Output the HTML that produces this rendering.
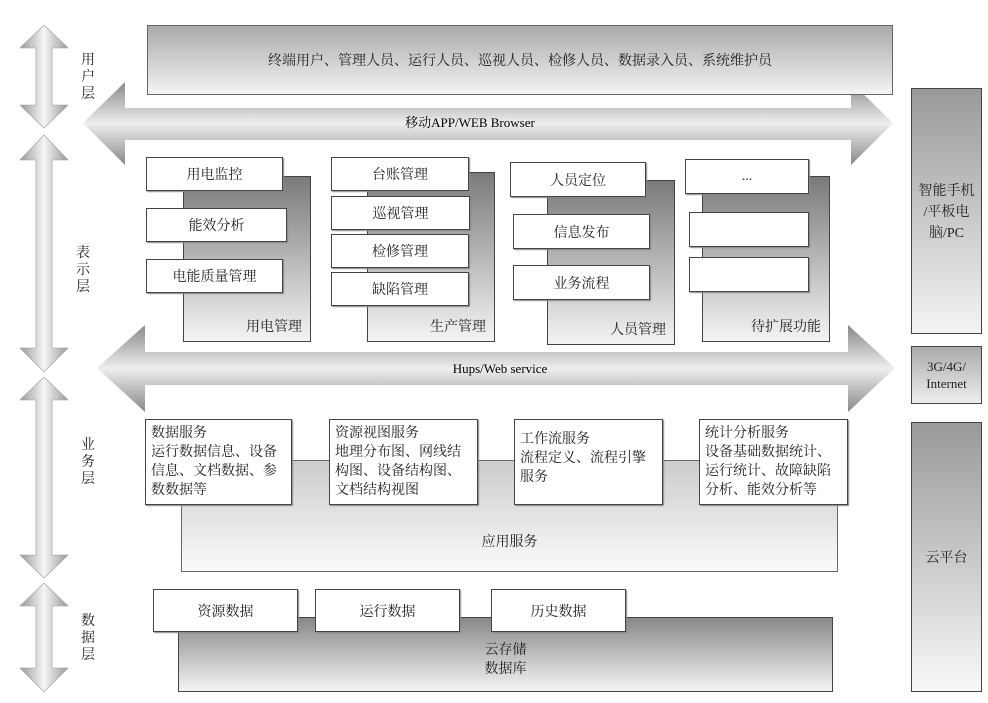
<!DOCTYPE html>
<html><head><meta charset="utf-8"><style>
body{margin:0;width:988px;height:703px;background:#fff;position:relative;overflow:hidden;font-family:"Liberation Serif","Noto Serif CJK SC","Noto Sans CJK SC",serif;color:#222}
.a{position:absolute;box-sizing:border-box}
.w{background:#fff;border:1.5px solid #444;box-shadow:1px 1px 1px #888;font-size:14px;display:flex;align-items:center;justify-content:center}
.bk{border:1.5px solid #444;background:linear-gradient(#7a7a7a,#f4f4f4);font-size:14px}
.lt{border:1.5px solid #666;background:linear-gradient(#ccc,#fafafa)}
.t{font-size:14px;line-height:19px;padding:4px 5px;display:block;text-align:left;align-items:flex-start;justify-content:flex-start}
.v{position:absolute;font-size:14px;line-height:17px;width:16px;text-align:center}
.lab{position:absolute;right:8px;bottom:5px}
</style></head><body>
<svg class="a" style="left:0;top:0" width="988" height="703">
<defs>
<linearGradient id="hg" x1="0" y1="0" x2="0" y2="1"><stop offset="0" stop-color="#888"/><stop offset=".5" stop-color="#eee"/><stop offset="1" stop-color="#888"/></linearGradient>
<linearGradient id="vg" x1="0" y1="0" x2="1" y2="0"><stop offset="0" stop-color="#999"/><stop offset=".5" stop-color="#f6f6f6"/><stop offset="1" stop-color="#999"/></linearGradient>
</defs>
<polygon points="83,123 125,82 125,108 851,108 851,82 893,123 851,165 851,140 125,140 125,165" fill="url(#hg)"/>
<polygon points="97,368 145,325 145,352 848,352 848,325 895,368 848,412 848,385 145,385 145,412" fill="url(#hg)"/>
<g fill="url(#vg)" stroke="#999" stroke-width=".6">
<polygon points="44,25 68,48 52,48 52,105 68,105 44,128 20,105 36,105 36,48 20,48"/>
<polygon points="44,135 68,160 52,160 52,348 68,348 44,372 20,348 36,348 36,160 20,160"/>
<polygon points="44,377 68,400 52,400 52,555 68,555 44,578 20,555 36,555 36,400 20,400"/>
<polygon points="44,583 68,606 52,606 52,668 68,668 44,692 20,668 36,668 36,606 20,606"/>
</g>
<text x="470" y="127" font-size="13" text-anchor="middle" font-family="Liberation Serif,Noto Serif CJK SC,serif">移动APP/WEB Browser</text>
<text x="500" y="373" font-size="13" text-anchor="middle" font-family="Liberation Serif,serif">Hups/Web service</text>
</svg>
<div class="a lt" style="left:147px;top:25px;width:746px;height:70px;background:linear-gradient(#aaa,#f4f4f4);display:flex;align-items:center;justify-content:center;font-size:14px">终端用户、管理人员、运行人员、巡视人员、检修人员、数据录入员、系统维护员</div>
<div class="v" style="left:80px;top:52px">用户层</div>
<div class="v" style="left:75px;top:245px">表示层</div>
<div class="v" style="left:80px;top:437px">业务层</div>
<div class="v" style="left:80px;top:613px">数据层</div>

<div class="a bk" style="left:183px;top:176px;width:128px;height:166px"><span class="lab">用电管理</span></div>
<div class="a w" style="left:146px;top:157px;width:137px;height:34px">用电监控</div>
<div class="a w" style="left:146px;top:208px;width:141px;height:34px">能效分析</div>
<div class="a w" style="left:146px;top:259px;width:137px;height:34px">电能质量管理</div>

<div class="a bk" style="left:367px;top:172px;width:128px;height:170px"><span class="lab">生产管理</span></div>
<div class="a w" style="left:331px;top:157px;width:138px;height:34px">台账管理</div>
<div class="a w" style="left:331px;top:196px;width:139px;height:34px">巡视管理</div>
<div class="a w" style="left:331px;top:234px;width:138px;height:34px">检修管理</div>
<div class="a w" style="left:331px;top:272px;width:138px;height:34px">缺陷管理</div>

<div class="a bk" style="left:547px;top:180px;width:128px;height:165px"><span class="lab">人员管理</span></div>
<div class="a w" style="left:510px;top:162px;width:136px;height:35px">人员定位</div>
<div class="a w" style="left:513px;top:214px;width:137px;height:35px">信息发布</div>
<div class="a w" style="left:513px;top:265px;width:137px;height:35px">业务流程</div>

<div class="a bk" style="left:702px;top:176px;width:128px;height:166px"><span class="lab">待扩展功能</span></div>
<div class="a w" style="left:685px;top:159px;width:124px;height:35px">...</div>
<div class="a w" style="left:689px;top:212px;width:120px;height:35px"></div>
<div class="a w" style="left:689px;top:257px;width:120px;height:35px"></div>

<div class="a bk" style="left:911px;top:88px;width:71px;height:246px;background:linear-gradient(#999,#f4f4f4);display:flex;align-items:flex-start;justify-content:center;text-align:center;padding-top:92px;line-height:21px">智能手机<br>/平板电<br>脑/PC</div>
<div class="a bk" style="left:911px;top:346px;width:71px;height:58px;background:linear-gradient(#aaa,#eee);display:flex;align-items:center;justify-content:center;text-align:center;font-size:13px;line-height:17px">3G/4G/<br>Internet</div>
<div class="a bk" style="left:911px;top:422px;width:71px;height:270px;background:linear-gradient(#999,#f8f8f8);display:flex;align-items:center;justify-content:center">云平台</div>

<div class="a lt" style="left:181px;top:460px;width:657px;height:112px;display:flex;align-items:flex-end;justify-content:center;padding-bottom:20px;font-size:14px">应用服务</div>
<div class="a w t" style="left:145px;top:419px;width:147px;height:86px">数据服务<br>运行数据信息、设备信息、文档数据、参数数据等</div>
<div class="a w t" style="left:329px;top:419px;width:149px;height:86px">资源视图服务<br>地理分布图、网线结构图、设备结构图、文档结构视图</div>
<div class="a w t" style="left:514px;top:419px;width:149px;height:86px;padding-top:10px">工作流服务<br>流程定义、流程引擎服务</div>
<div class="a w t" style="left:699px;top:419px;width:149px;height:86px">统计分析服务<br>设备基础数据统计、运行统计、故障缺陷分析、能效分析等</div>

<div class="a bk" style="left:178px;top:617px;width:655px;height:75px;background:linear-gradient(#888,#f4f4f4);display:flex;align-items:flex-end;justify-content:center;text-align:center;padding-bottom:12px;line-height:19px">云存储<br>数据库</div>
<div class="a w" style="left:153px;top:589px;width:145px;height:43px">资源数据</div>
<div class="a w" style="left:315px;top:589px;width:145px;height:43px">运行数据</div>
<div class="a w" style="left:491px;top:589px;width:135px;height:43px">历史数据</div>
</body></html>
